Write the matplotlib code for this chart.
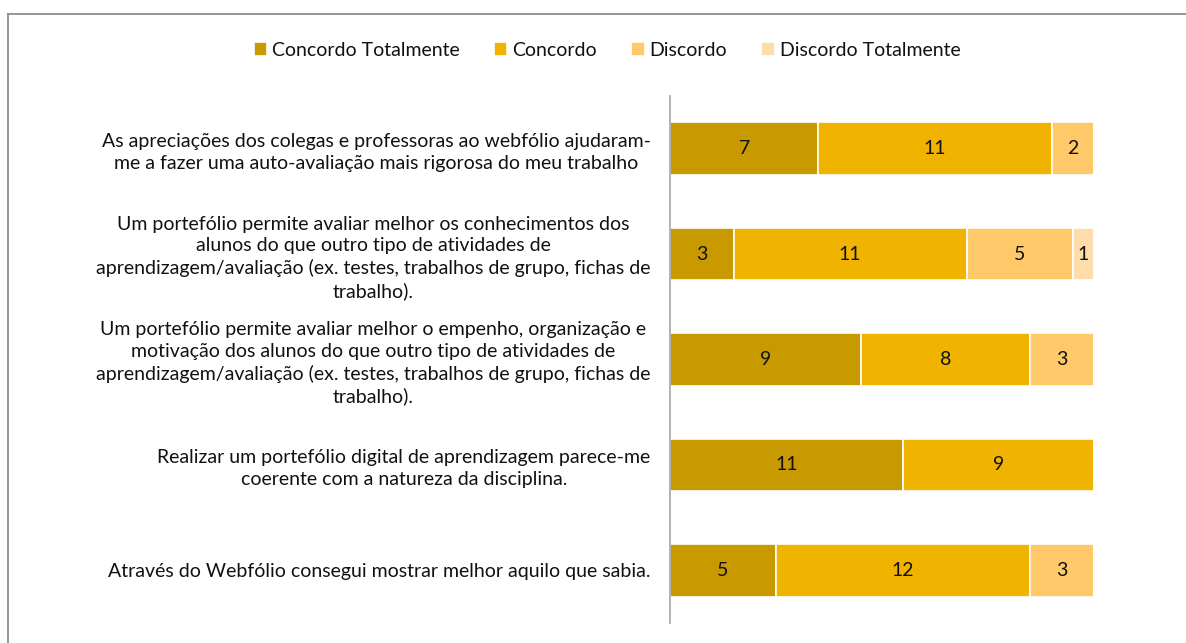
import matplotlib
matplotlib.use("Agg")
import matplotlib.pyplot as plt
from matplotlib.lines import Line2D
import numpy as np

plt.rcParams['font.family'] = ['Lato', 'DejaVu Sans']

categories = [
    "As apreciações dos colegas e professoras ao webfólio ajudaram-\nme a fazer uma auto-avaliação mais rigorosa do meu trabalho",
    "Um portefólio permite avaliar melhor os conhecimentos dos\nalunos do que outro tipo de atividades de\naprendizagem/avaliação (ex. testes, trabalhos de grupo, fichas de\ntrabalho).",
    "Um portefólio permite avaliar melhor o empenho, organização e\nmotivação dos alunos do que outro tipo de atividades de\naprendizagem/avaliação (ex. testes, trabalhos de grupo, fichas de\ntrabalho).",
    "Realizar um portefólio digital de aprendizagem parece-me\ncoerente com a natureza da disciplina.",
    "Através do Webfólio consegui mostrar melhor aquilo que sabia.",
]
series_names = ["Concordo Totalmente", "Concordo", "Discordo", "Discordo Totalmente"]
concordo_totalmente = [7, 3, 9, 11, 5]
concordo = [11, 11, 8, 9, 12]
discordo = [2, 5, 3, 0, 3]
discordo_totalmente = [0, 1, 0, 0, 0]
colors = ["#C99A00", "#F0B400", "#FFC869", "#FFDDAA"]

W, H = 1186, 643
fig = plt.figure(figsize=(W / 100, H / 100), dpi=100)
border = "#8C8C8C"
fig.add_artist(Line2D([7.5 / W, 7.5 / W], [0, 1 - 13.5 / H], transform=fig.transFigure, color=border, lw=1.3))
fig.add_artist(Line2D([7.5 / W, 1], [1 - 13.5 / H, 1 - 13.5 / H], transform=fig.transFigure, color=border, lw=1.3))

ax = fig.add_axes([670 / W, 20 / H, 424 / W, 527 / H])

y = np.arange(len(categories))
left = np.zeros(len(categories))
for name, vals, c in zip(series_names, [concordo_totalmente, concordo, discordo, discordo_totalmente], colors):
    vals = np.array(vals, dtype=float)
    bars = ax.barh(y, vals, left=left, height=0.5, color=c, edgecolor="white", linewidth=1.2, label=name)
    for b, v in zip(bars, vals):
        if v > 0:
            ax.text(b.get_x() + b.get_width() / 2, b.get_y() + b.get_height() / 2, f"{int(v)}",
                    ha="center", va="center", fontsize=14, color="#111111")
    left += vals

ax.set_xlim(0, 20)
ax.set_ylim(len(categories) - 0.5, -0.5)
ax.set_yticks(y)
ax.set_yticklabels(categories, fontsize=14, multialignment="center", linespacing=1.32, color="#111111")
ax.tick_params(axis="y", length=0, pad=14)
ax.set_xticks([])
for s in ["top", "right", "bottom"]:
    ax.spines[s].set_visible(False)
ax.spines["left"].set_color("#A6A6A6")
ax.spines["left"].set_linewidth(1.2)

leg = fig.legend(loc="center", bbox_to_anchor=(607 / W, 1 - 50 / H), ncol=4, frameon=False, fontsize=14,
                 handlelength=0.7, handleheight=0.7, handletextpad=0.25, columnspacing=1.75)
for t in leg.get_texts():
    t.set_color("#111111")

fig.savefig("out.png", dpi=100)
